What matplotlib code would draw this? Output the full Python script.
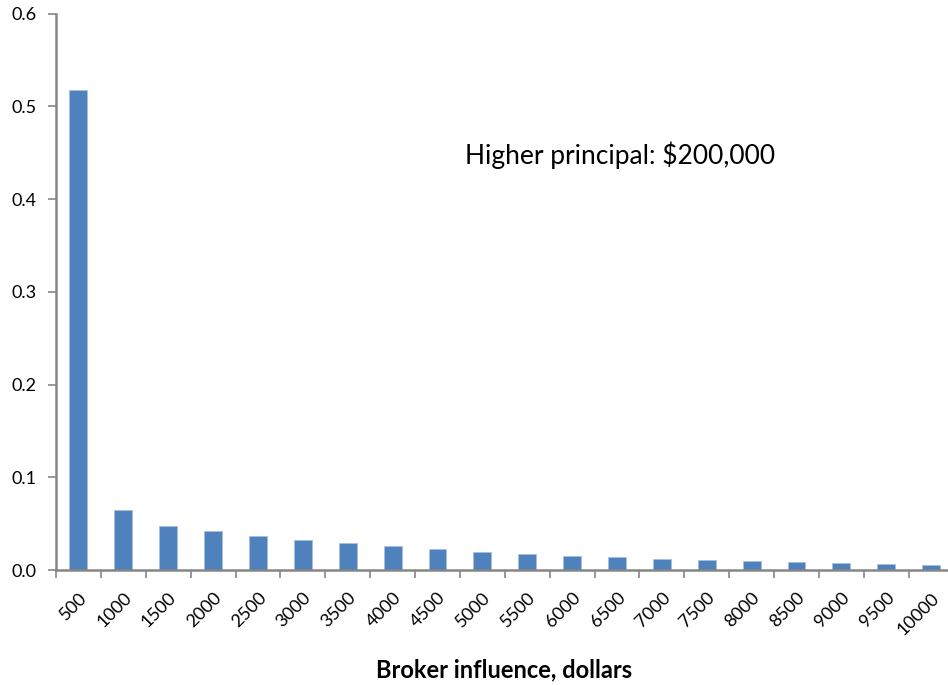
import numpy as np
import matplotlib.pyplot as plt

plt.rcParams['font.family'] = ['Lato', 'DejaVu Sans']

influence = ['500', '1000', '1500', '2000', '2500', '3000', '3500', '4000', '4500', '5000',
             '5500', '6000', '6500', '7000', '7500', '8000', '8500', '9000', '9500', '10000']
share = [0.518, 0.0647, 0.0477, 0.0423, 0.037, 0.033, 0.029, 0.0259, 0.023, 0.020,
         0.0179, 0.0157, 0.014, 0.0122, 0.0111, 0.0097, 0.0086, 0.0079, 0.0068, 0.0057]
yticks = [0.0, 0.1, 0.2, 0.3, 0.4, 0.5, 0.6]

W, H = 948, 685
fig = plt.figure(figsize=(W / 100, H / 100), dpi=100)
# plot area runs slightly past the right edge, as in the source
left, right, top, bottom = 56, 953.6, 13.5, 570.3
ax = fig.add_axes([left / W, 1 - bottom / H, (right - left) / W, (bottom - top) / H])

x = np.arange(len(influence))
ax.bar(x, share, width=0.4, color='#4F81BD', edgecolor='#A7BFDE', linewidth=0.6, zorder=2)

ax.set_xlim(-0.5, len(influence) - 0.5)
ax.set_ylim(0, 0.6)
ax.set_yticks(yticks)
ax.set_yticklabels(['%.1f' % v for v in yticks], fontsize=13)
ax.set_xticks(x - 0.5, minor=False)
ax.set_xticklabels([])
ax.set_xticks(x, minor=True)
ax.set_xticklabels(influence, minor=True, rotation=45, ha='right', va='top',
                   rotation_mode='anchor', fontsize=13)
ax.tick_params(axis='x', which='major', length=6, width=1.2, color='#868686', direction='out')
ax.tick_params(axis='x', which='minor', length=0, pad=14)
ax.tick_params(axis='y', length=6, width=1.2, color='#868686', direction='out', pad=8)

for s in ['top', 'right']:
    ax.spines[s].set_visible(False)
for s in ['left', 'bottom']:
    ax.spines[s].set_color('#868686')
    ax.spines[s].set_linewidth(1.8)

ax.text((465 - left) / (right - left), 0.745, 'Higher principal: $200,000',
        transform=ax.transAxes, fontsize=19, ha='left', va='center')
fig.text(504 / W, 1 - 670 / H, 'Broker influence, dollars', fontsize=17, fontweight='bold',
         ha='center', va='center')

fig.savefig('out.png', dpi=100)
